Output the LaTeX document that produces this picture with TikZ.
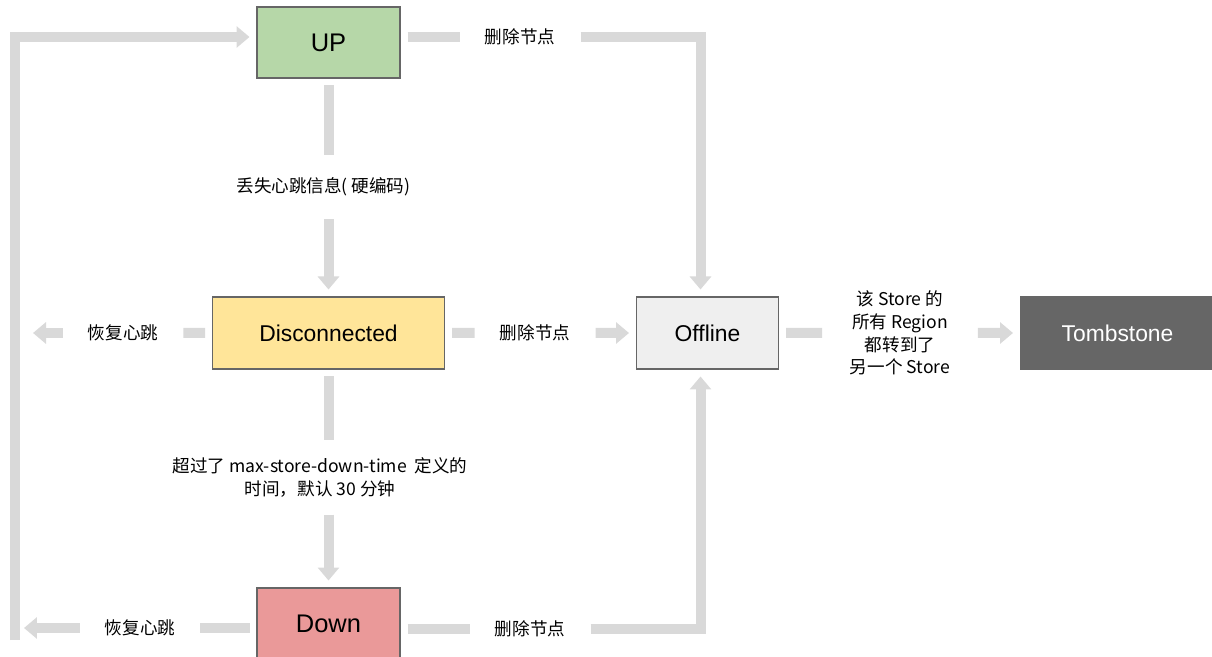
\documentclass[tikz,border=0pt]{standalone}
\usepackage{fontspec}
\setmainfont{Liberation Sans}
\newfontfamily\cjk{Noto Sans CJK SC}
\usetikzlibrary{arrows.meta, positioning}
\definecolor{linegray}{HTML}{D9D9D9}
\definecolor{upgreen}{HTML}{B6D7A8}
\definecolor{discyellow}{HTML}{FFE599}
\definecolor{downred}{HTML}{EA9999}
\definecolor{offgray}{HTML}{EFEFEF}
\definecolor{tombgray}{HTML}{666666}

\begin{document}
\begin{tikzpicture}[
    state/.style={rectangle, draw=black!60, line width=0.6pt, minimum width=2.86cm, minimum height=1.44cm, outer sep=0.15cm, font=\fontsize{13}{15}\selectfont},
    bigstate/.style={state, font=\fontsize{14.5}{17}\selectfont},
    upstate/.style={bigstate, fill=upgreen, minimum height=1.42cm},
    discstate/.style={state, fill=discyellow, minimum width=4.64cm},
    downstate/.style={bigstate, fill=downred},
    offstate/.style={state, fill=offgray, minimum width=2.84cm},
    tombstate/.style={state, fill=tombgray, draw=tombgray, text=white, minimum width=3.88cm},
    lbl/.style={font=\cjk\fontsize{10}{13}\selectfont, align=center, inner xsep=0.5cm, inner ysep=0.45cm},
    link/.style={draw=linegray, line width=0.2cm},
    arr/.style={link, -{Triangle[width=0.42cm, length=0.26cm]}}
]
    \useasboundingbox (0,0) rectangle (24.24,-13.14);

    % States
    \node[upstate] (up) at (6.57,-0.85) {UP};
    \node[discstate, below=4.08cm of up] (disc) {Disconnected};
    \node[downstate, below=4.08cm of disc] (down) {Down};
    \node[offstate, right=3.54cm of disc] (offline) {Offline};
    \node[tombstate, right=4.54cm of offline] (tomb) {Tombstone};

    % Labels
    \node[lbl] (delup) at (10.4,-0.74) {删除节点};
    \node[lbl] (lost) at (6.47,-3.74) {丢失心跳信息( 硬编码)};
    \node[lbl] (backdisc) at (2.46,-6.66) {恢复心跳};
    \node[lbl] (deldisc) at (10.7,-6.66) {删除节点};
    \node[lbl, inner ysep=0.34cm] (timeout) at (6.4,-9.55) {超过了 max-store-down-time\ \ 定义的\\时间，默认 30 分钟};
    \node[lbl] (backdown) at (2.8,-12.56) {恢复心跳};
    \node[lbl] (deldown) at (10.6,-12.58) {删除节点};
    \node[lbl, inner xsep=0.55cm] (moved) at (18.0,-6.66) {该 Store 的\\所有 Region\\都转到了\\另一个 Store};

    % Free ends
    \coordinate (discback) at (0.66,-6.66);
    \coordinate (downback) at (0.48,-12.56);
    \coordinate (loop) at (0.3,-12.8);

    % From UP
    \draw[link] (delup -| up.east) -- (delup);
    \draw[arr] (delup) -| ([xshift=-0.14cm]offline.north);
    \draw[link] (up) -- (up |- lost.north);
    \draw[arr] (up |- lost.south) -- (disc);

    % From Disconnected
    \draw[link] (disc) -- (backdisc);
    \draw[arr] (backdisc) -- (discback);
    \draw[link] (disc) -- (deldisc);
    \draw[arr] (deldisc) -- (offline);
    \draw[link] (disc) -- (disc |- timeout.north);
    \draw[arr] (disc |- timeout.south) -- (down);

    % From Down
    \draw[link] (backdown -| down.west) -- (backdown);
    \draw[arr] (backdown) -- (downback);
    \draw[link] (deldown -| down.east) -- (deldown);
    \draw[arr] (deldown) -| ([xshift=-0.14cm]offline.south);
    \draw[arr] (loop) |- ([yshift=0.11cm]up.west);

    % From Offline
    \draw[link] (offline) -- (moved);
    \draw[arr] (moved) -- (tomb);
\end{tikzpicture}
\end{document}
